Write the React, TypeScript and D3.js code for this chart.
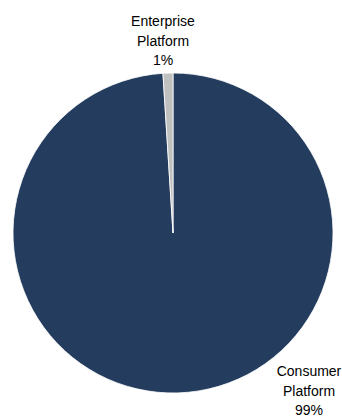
import React from "react";
import * as d3 from "d3";

const categories = ["Consumer Platform", "Enterprise Platform"];
const values = [99, 1];
const labels = ["99%", "1%"];
const colors = ["#243d5e", "#c0c0c0"];

const W = 342;
const H = 417;

export default function App() {
  const cx = 173;
  const cy = 233;
  const r = 160;
  const data = categories.map((c, i) => ({ name: c, value: values[i], label: labels[i], color: colors[i] }));
  const pie = d3.pie<any>().sort(null).value((d: any) => d.value);
  const arcs = pie(data);
  const arc = d3.arc<any>().innerRadius(0).outerRadius(r);

  const labelPos = [
    { x: 309, y: 376 },
    { x: 163, y: 26 },
  ];

  return (
    <svg width={W} height={H} style={{ position: "absolute", left: 0, top: 0, background: "#fff" }}>
      <g transform={`translate(${cx},${cy})`}>
        {arcs.map((a, i) => (
          <path key={i} d={arc(a) as string} fill={a.data.color} stroke="#ffffff" strokeWidth={0.8} />
        ))}
      </g>
      {arcs.map((a, i) => {
        const words = a.data.name.split(" ");
        const p = labelPos[i];
        return (
          <text key={i} x={p.x} y={p.y} textAnchor="middle" fontFamily="Liberation Sans, Arial, sans-serif" fontSize={14} fill="#000">
            {words.map((w: string, j: number) => (
              <tspan key={j} x={p.x} dy={j === 0 ? 0 : 19.5}>{w}</tspan>
            ))}
            <tspan x={p.x} dy={19.5}>{a.data.label}</tspan>
          </text>
        );
      })}
    </svg>
  );
}
